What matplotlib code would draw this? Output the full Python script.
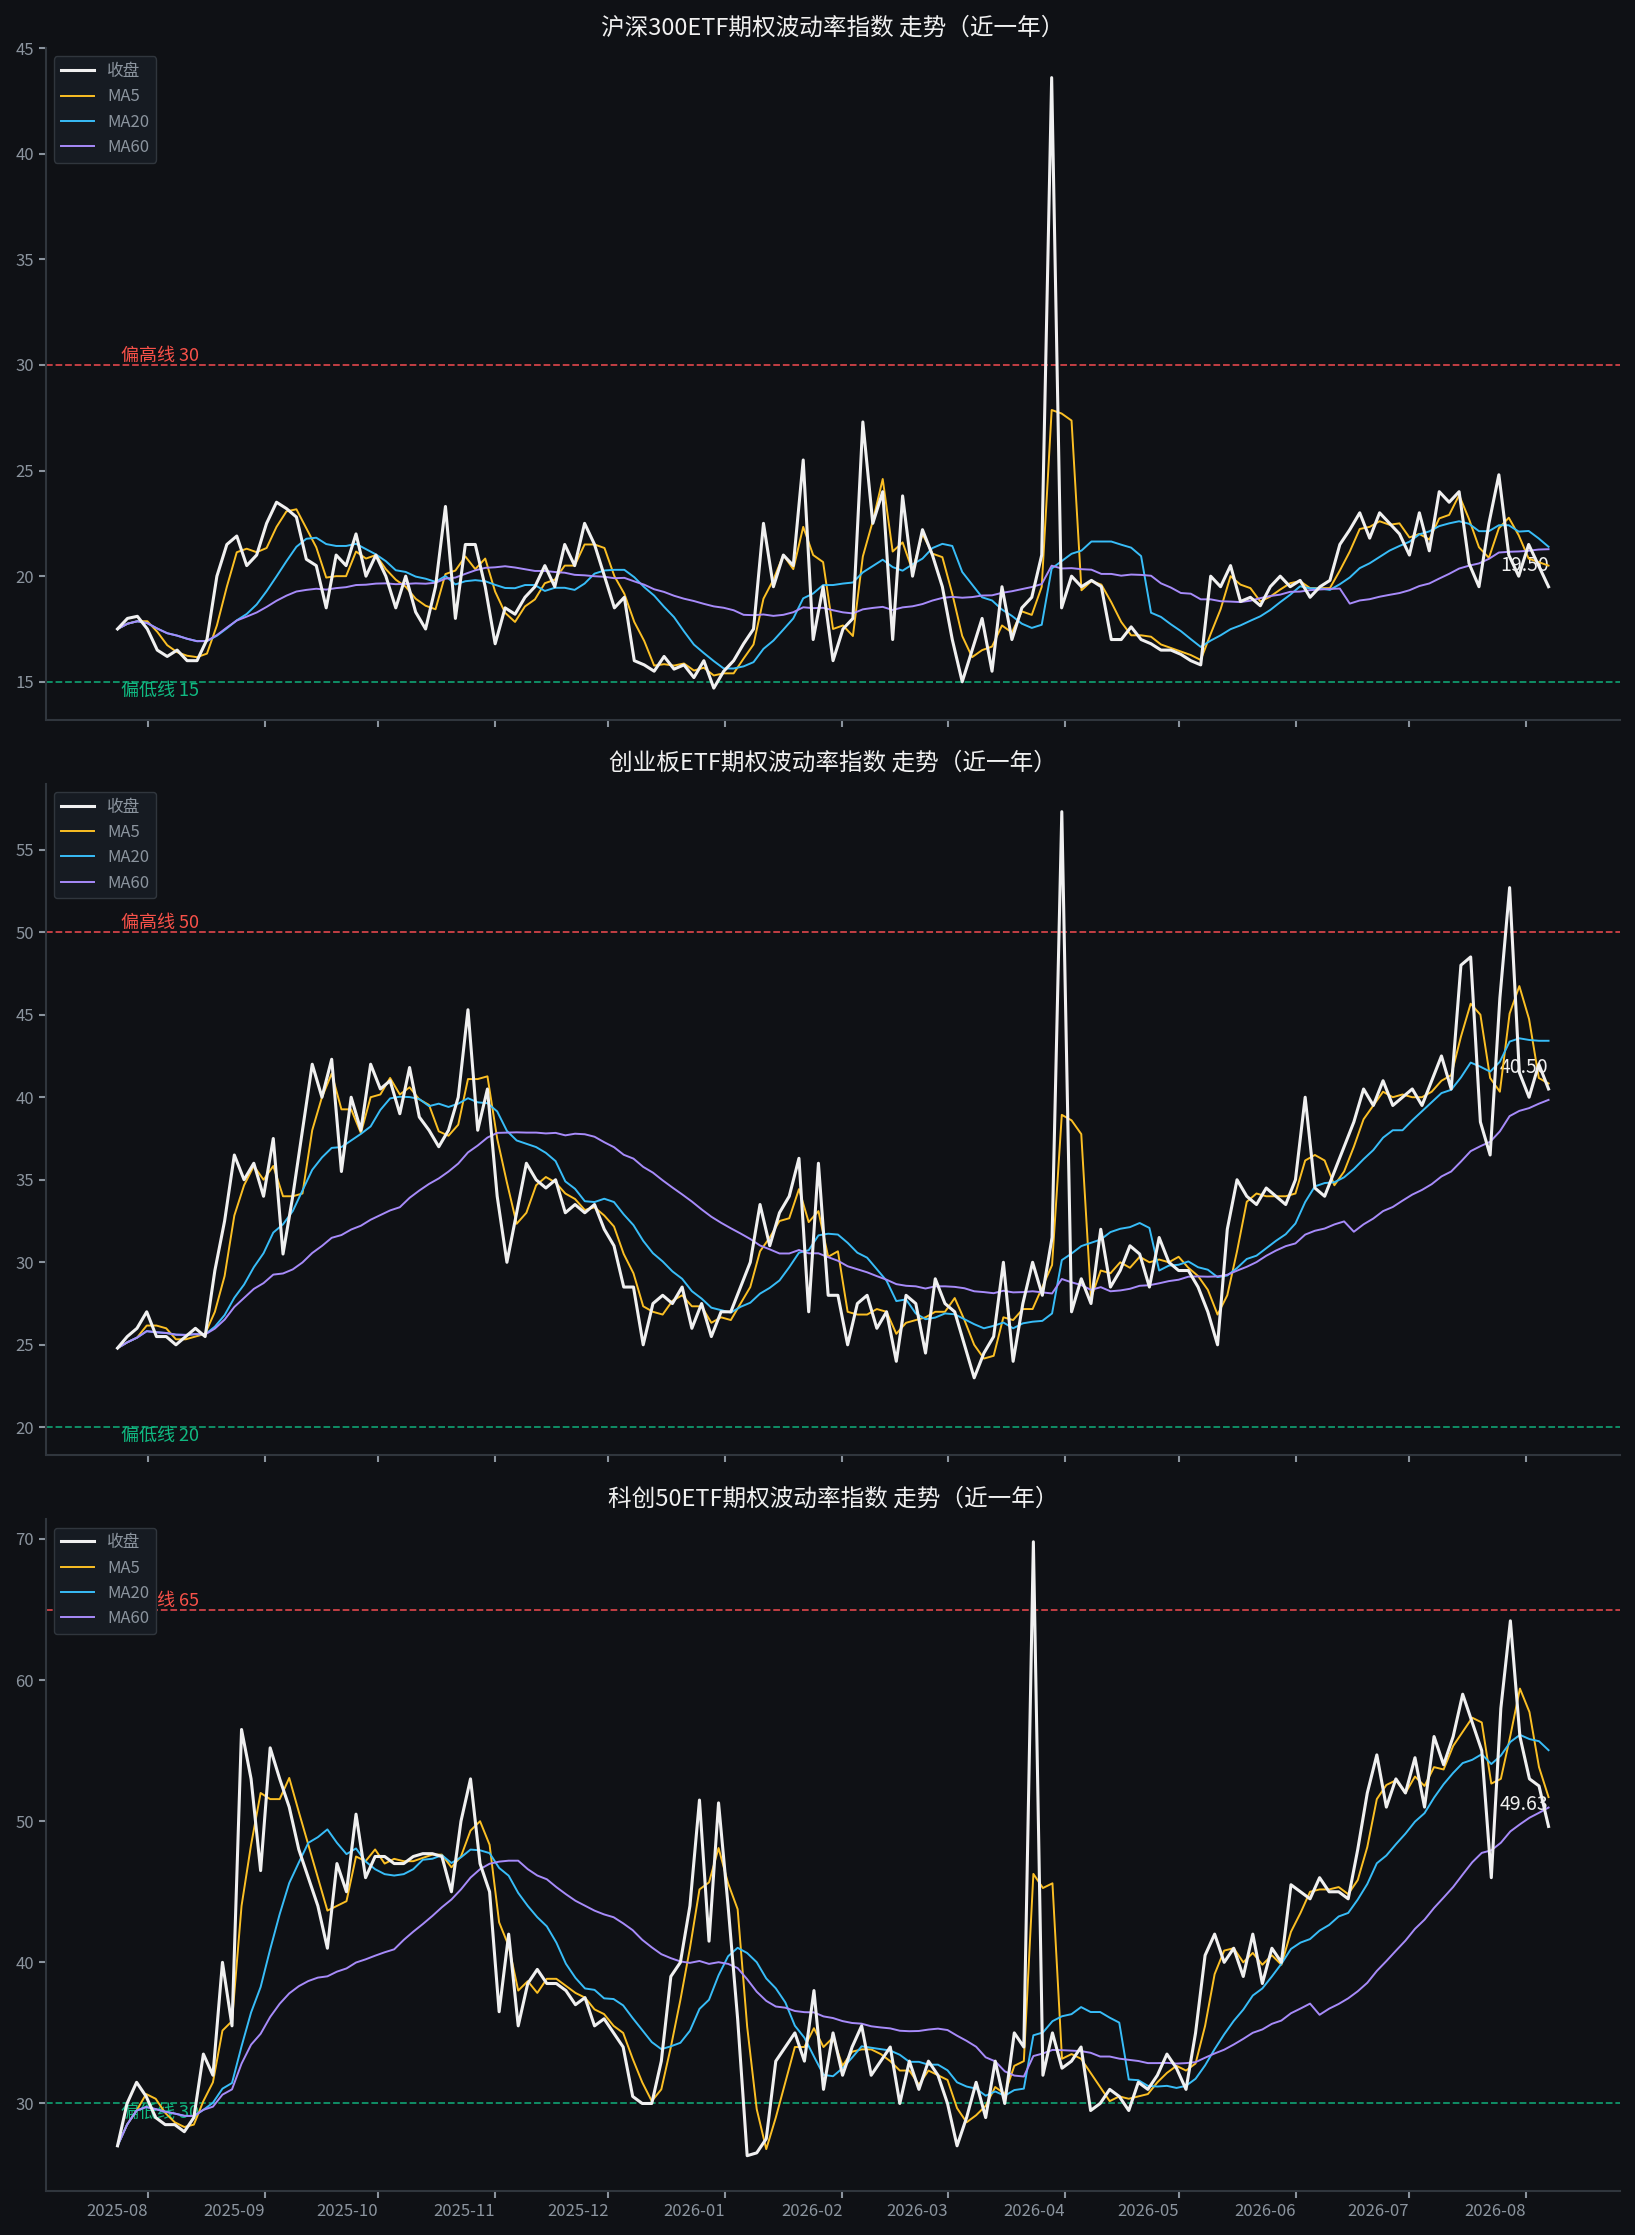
import matplotlib
matplotlib.use('Agg')
import matplotlib.pyplot as plt
import matplotlib.dates as mdates
import pandas as pd

plt.rcParams['font.family'] = ['Noto Sans CJK SC', 'DejaVu Sans']
plt.rcParams['axes.unicode_minus'] = False

BG = '#0f1115'
GRID = '#30363d'
TXT = '#8b949e'

start_date = '2025-07-24'
end_date = '2026-08-07'

titles = ['沪深300ETF期权波动率指数 走势（近一年）',
          '创业板ETF期权波动率指数 走势（近一年）',
          '科创50ETF期权波动率指数 走势（近一年）']
high_lines = [30, 50, 65]
low_lines = [15, 20, 30]
ylims = [(13.2, 45), (18.3, 59), (23.8, 71.4)]

hs300_close = [
    17.5, 18, 18.1,
    17.5, 16.5, 16.2, 16.5, 16, 16, 17, 20, 21.5, 21.9, 20.5, 21, 22.5, 23.5,
    23.2, 22.8, 20.8, 20.5, 18.5, 21, 20.5, 22, 20, 21, 20, 18.5,
    20, 18.3, 17.5, 19.5, 23.3, 18, 21.5, 21.5, 19.5,
    16.8, 18.5, 18.2, 19, 19.5, 20.5, 19.5, 21.5, 20.5, 22.5, 21.5,
    20, 18.5, 19, 16, 15.8, 15.5, 16.2, 15.6, 15.8, 15.2, 16, 14.7,
    15.5, 16, 16.8, 17.5, 22.5, 19.5, 21, 20.5, 25.5, 17, 19.5, 16,
    17.5, 18, 27.3, 22.5, 24, 17, 23.8, 20, 22.2, 21, 19.5,
    17, 15, 16.5, 18, 15.5, 19.5, 17, 18.5, 19, 21, 43.6, 18.5, 20, 19.5,
    19.8, 19.5, 17, 17, 17.6, 17, 16.8, 16.5, 16.5, 16.3, 16, 15.8,
    20, 19.5, 20.5, 18.8, 19, 18.6, 19.5, 20, 19.5, 19.8, 19,
    19.5, 19.8, 21.5, 22.2, 23, 21.8, 23, 22.5, 22, 21, 23,
    21.2, 24, 23.5, 24, 20.6, 19.5, 22.5, 24.8, 21, 20, 21.5,
    20.5, 19.5,
]

cyb_close = [
    24.8, 25.5, 26, 27, 25.5,
    25.5, 25, 25.5, 26, 25.5, 29.5, 32.5, 36.5, 35, 36, 34, 37.5,
    30.5, 34, 38, 42, 40, 42.3, 35.5, 40, 38, 42, 40.5, 41,
    39, 41.8, 38.8, 38, 37, 38, 40, 45.3, 38, 40.5,
    34, 30, 33, 36, 35, 34.5, 35, 33, 33.5, 33, 33.5, 32,
    31, 28.5, 28.5, 25, 27.5, 28, 27.5, 28.5, 26, 27.5, 25.5, 27,
    27, 28.5, 30, 33.5, 31, 33, 34, 36.3, 27, 36, 28, 28,
    25, 27.5, 28, 26, 27, 24, 28, 27.5, 24.5, 29, 27.5,
    27, 25, 23, 24.5, 25.5, 30, 24, 27.5, 30, 28, 31.5, 57.3, 27, 29,
    27.5, 32, 28.5, 29.5, 31, 30.5, 28.5, 31.5, 30, 29.5, 29.5, 28.5,
    27, 25, 32, 35, 34, 33.5, 34.5, 34, 33.5, 35, 40, 34.5,
    34, 35.5, 37, 38.5, 40.5, 39.5, 41, 39.5, 40, 40.5, 39.5,
    41, 42.5, 40.5, 48, 48.5, 38.5, 36.5, 46, 52.7, 41.5, 40,
    42, 40.5,
]

kc50_close = [
    27, 30, 31.5, 30.5, 29, 28.5,
    28.5, 28, 29, 33.5, 32, 40, 35.5, 56.5, 53, 46.5, 55.2, 53,
    51, 48, 46, 44, 41, 47, 45, 50.5, 46, 47.5, 47.5, 47, 47,
    47.5, 47.7, 47.7, 47.5, 45, 50, 53, 47, 45, 36.5, 42,
    35.5, 38.5, 39.5, 38.5, 38.5, 38, 37, 37.5, 35.5, 36, 35,
    34, 30.5, 30, 30, 33, 39, 40, 44, 51.5, 41.5, 51.3, 44,
    36, 26.3, 26.5, 27.5, 33, 34, 35, 33, 38, 31, 35, 32,
    34, 35.5, 32, 33, 34, 30, 33, 31, 33, 32,
    30, 27, 29, 31.5, 29, 33, 30, 35, 34, 69.8, 32, 35, 32.5,
    33, 34, 29.5, 30, 31, 30.5, 29.5, 31.5, 31, 32, 33.5, 32.5, 31,
    35, 40.5, 42, 40, 41, 39, 42, 38.5, 41, 40, 45.5, 45,
    44.5, 46, 45, 45, 44.5, 48, 52, 54.7, 51, 53, 52, 54.5,
    51, 56, 54, 56, 59, 57, 55, 46, 58, 64.2, 56, 53,
    52.5, 49.63,
]

all_close = [hs300_close, cyb_close, kc50_close]
# each point ~2 trading days, so the MA windows are scaled accordingly
ma_windows = [('MA5', 3, '#fbbf24'), ('MA20', 10, '#38bdf8'), ('MA60', 30, '#a78bfa')]

fig, axes = plt.subplots(3, 1, figsize=(16.35, 22.35), dpi=100, sharex=True)
fig.patch.set_facecolor(BG)
fig.subplots_adjust(left=0.028, right=0.991, top=0.9785, bottom=0.0197, hspace=0.095)

for ax, title, close, hi, lo, yl in zip(axes, titles, all_close, high_lines, low_lines, ylims):
    dates = pd.date_range(start_date, end_date, periods=len(close))
    s = pd.Series(close, index=dates)
    ax.set_facecolor(BG)
    ax.plot(dates, s.values, color='#f0f0f0', lw=2.2, label='收盘', zorder=5)
    for name, w, c in ma_windows:
        ax.plot(dates, s.rolling(w, min_periods=1).mean().values, color=c, lw=1.4, label=name, zorder=4)
    ax.axhline(hi, color='#e5484d', ls='--', lw=1.3, alpha=0.9)
    ax.axhline(lo, color='#10b981', ls='--', lw=1.3, alpha=0.8)
    x0 = pd.Timestamp('2025-07-25')
    ax.text(x0, hi, f'偏高线 {hi}', color='#f85149', fontsize=13, va='bottom')
    ax.text(x0, lo, f'偏低线 {lo}', color='#10b981', fontsize=13, va='top')
    ax.annotate(f'{close[-1]:.2f}', (dates[-1], close[-1]), xytext=(0, 8),
                textcoords='offset points', ha='right', va='bottom', color='#f0f0f0', fontsize=14)
    ax.set_title(title, color='#f0f0f0', fontsize=17, pad=10)
    ax.set_ylim(*yl)
    ax.set_xlim(pd.Timestamp('2025-07-05'), pd.Timestamp('2026-08-26'))
    for sp in ['top', 'right']:
        ax.spines[sp].set_visible(False)
    for sp in ['left', 'bottom']:
        ax.spines[sp].set_color(GRID)
        ax.spines[sp].set_linewidth(1.5)
    ax.tick_params(colors=TXT, labelsize=12, width=1.5, length=5)
    leg = ax.legend(loc='upper left', fontsize=12, facecolor='#161b22', edgecolor=GRID,
                    labelcolor=TXT, framealpha=1.0)

axes[-1].xaxis.set_major_locator(mdates.MonthLocator())
axes[-1].xaxis.set_major_formatter(mdates.DateFormatter('%Y-%m'))
for lab in axes[-1].get_xticklabels():
    lab.set_ha('right')

fig.savefig('out.png', facecolor=BG)
